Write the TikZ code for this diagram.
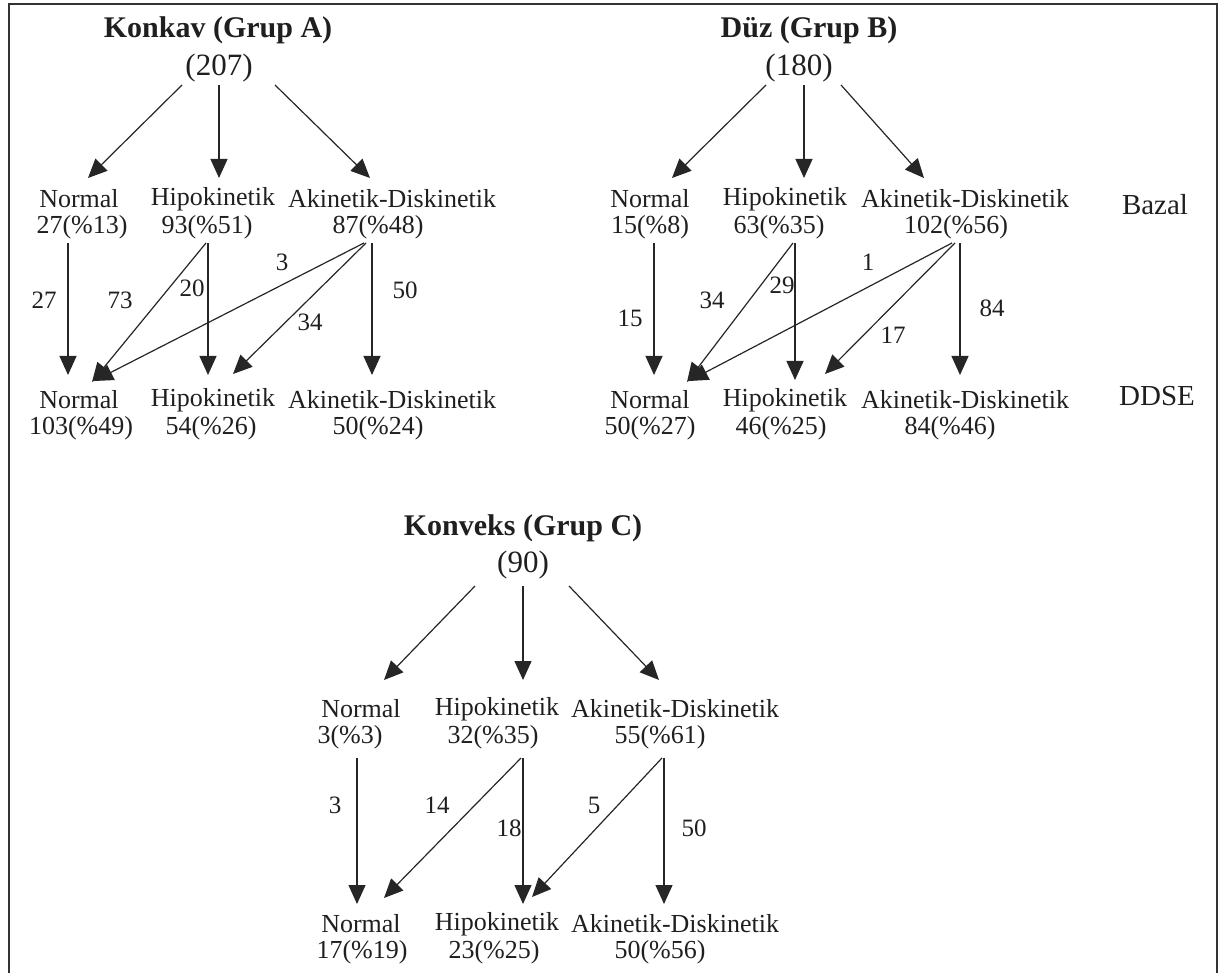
\documentclass[tikz,border=0pt]{standalone}
\usepackage{fontspec}
\setmainfont{Liberation Serif}
\usetikzlibrary{arrows.meta}
\begin{document}
\begin{tikzpicture}[x=1pt,y=-1pt,
  lbl/.style={inner sep=0pt, text=black!88, font=\fontsize{26}{26}\selectfont},
  ttl/.style={inner sep=0pt, text=black!88, font=\fontsize{30}{30}\selectfont\bfseries},
  cnt/.style={inner sep=0pt, text=black!88, font=\fontsize{31}{31}\selectfont},
  side/.style={inner sep=0pt, text=black!88, font=\fontsize{29}{29}\selectfont},
  num/.style={inner sep=0pt, text=black!88, font=\fontsize{25}{25}\selectfont},
  arr/.style={draw=black!85, line width=1.2pt, -{Triangle[length=19pt,width=17pt]}},
  frame/.style={draw=black!80, line width=2.5pt}]
\useasboundingbox (0,0) rectangle (1223,973);
% frame
\coordinate (F1) at (9,973); \coordinate (F2) at (9,4);
\coordinate (F3) at (1217,4); \coordinate (F4) at (1217,973);
\draw[frame] (F1) -- (F2) -- (F3) -- (F4);

% ================= Group A =================
\node[ttl] (At) at (218,30) {Konkav (Grup A)};
\node[cnt] (Ac) at (219,68) {(207)};
\node[lbl] (A1Na) at (79,199) {Normal};
\node[lbl] (A1Nb) at (82,227) {27(\%13)};
\node[lbl] (A1Ha) at (213,199) {Hipokinetik};
\node[lbl] (A1Hb) at (207,227) {93(\%51)};
\node[lbl] (A1Da) at (392,199) {Akinetik-Diskinetik};
\node[lbl] (A1Db) at (378,227) {87(\%48)};
\node[lbl] (A2Na) at (79,400) {Normal};
\node[lbl] (A2Nb) at (81,428) {103(\%49)};
\node[lbl] (A2Ha) at (213,400) {Hipokinetik};
\node[lbl] (A2Hb) at (211,428) {54(\%26)};
\node[lbl] (A2Da) at (392,400) {Akinetik-Diskinetik};
\node[lbl] (A2Db) at (378,428) {50(\%24)};
\coordinate (AcL) at (182,85); \coordinate (A1Ntip) at (88,178);
\coordinate (AcM) at (219,85); \coordinate (A1Htip) at (219,178);
\coordinate (AcR) at (275,85); \coordinate (A1Dtip) at (370,178);
\draw[arr] (AcL) -- (A1Ntip);
\draw[arr] (AcM) -- (A1Htip);
\draw[arr] (AcR) -- (A1Dtip);
\coordinate (A1Ns) at (68,243);  \coordinate (A2Nv) at (68,375);
\coordinate (A1Hs) at (208,243); \coordinate (A2Hv) at (208,375);
\coordinate (A1Hd) at (206,243); \coordinate (A2Nd1) at (92,382);
\coordinate (A1Ds) at (372,243); \coordinate (A2Dv) at (372,375);
\coordinate (A1Dd1) at (364,243); \coordinate (A2Nd2) at (94,381);
\coordinate (A1Dd2) at (366,243); \coordinate (A2Hd) at (233,374);
\draw[arr] (A1Ns) -- (A2Nv);
\draw[arr] (A1Hs) -- (A2Hv);
\draw[arr] (A1Hd) -- (A2Nd1);
\draw[arr] (A1Ds) -- (A2Dv);
\draw[arr] (A1Dd1) -- (A2Nd2);
\draw[arr] (A1Dd2) -- (A2Hd);
\node[num] (Al27) at (44,300) {27};
\node[num] (Al73) at (120,300) {73};
\node[num] (Al20) at (192,288) {20};
\node[num] (Al3) at (282,262) {3};
\node[num] (Al34) at (310,322) {34};
\node[num] (Al50) at (405,290) {50};

% ================= Group B =================
\node[ttl] (Bt) at (809,30) {Düz (Grup B)};
\node[cnt] (Bc) at (799,68) {(180)};
\node[lbl] (B1Na) at (650,199) {Normal};
\node[lbl] (B1Nb) at (650,227) {15(\%8)};
\node[lbl] (B1Ha) at (785,199) {Hipokinetik};
\node[lbl] (B1Hb) at (779,227) {63(\%35)};
\node[lbl] (B1Da) at (965,199) {Akinetik-Diskinetik};
\node[lbl] (B1Db) at (956,227) {102(\%56)};
\node[lbl] (B2Na) at (650,400) {Normal};
\node[lbl] (B2Nb) at (650,428) {50(\%27)};
\node[lbl] (B2Ha) at (785,400) {Hipokinetik};
\node[lbl] (B2Hb) at (781,428) {46(\%25)};
\node[lbl] (B2Da) at (965,400) {Akinetik-Diskinetik};
\node[lbl] (B2Db) at (950,428) {84(\%46)};
\node[side] (Bazal) at (1155,205) {Bazal};
\node[side] (DDSE) at (1157,396) {DDSE};
\coordinate (BcL) at (766,85); \coordinate (B1Ntip) at (672,178);
\coordinate (BcM) at (804,85); \coordinate (B1Htip) at (804,178);
\coordinate (BcR) at (841,85); \coordinate (B1Dtip) at (924,178);
\draw[arr] (BcL) -- (B1Ntip);
\draw[arr] (BcM) -- (B1Htip);
\draw[arr] (BcR) -- (B1Dtip);
\coordinate (B1Ns) at (654,243);  \coordinate (B2Nv) at (654,375);
\coordinate (B1Hs) at (795,243);  \coordinate (B2Hv) at (795,380);
\coordinate (B1Hd) at (793,243);  \coordinate (B2Nd1) at (687,382);
\coordinate (B1Ds) at (960,243);  \coordinate (B2Dv) at (960,375);
\coordinate (B1Dd1) at (952,243); \coordinate (B2Nd2) at (689,381);
\coordinate (B1Dd2) at (955,243); \coordinate (B2Hd) at (825,374);
\draw[arr] (B1Ns) -- (B2Nv);
\draw[arr] (B1Hs) -- (B2Hv);
\draw[arr] (B1Hd) -- (B2Nd1);
\draw[arr] (B1Ds) -- (B2Dv);
\draw[arr] (B1Dd1) -- (B2Nd2);
\draw[arr] (B1Dd2) -- (B2Hd);
\node[num] (Bl15) at (630,318) {15};
\node[num] (Bl34) at (712,300) {34};
\node[num] (Bl29) at (782,285) {29};
\node[num] (Bl1) at (868,262) {1};
\node[num] (Bl17) at (893,335) {17};
\node[num] (Bl84) at (992,308) {84};

% ================= Group C =================
\node[ttl] (Ct) at (523,528) {Konveks (Grup C)};
\node[cnt] (Cc) at (523,565) {(90)};
\node[lbl] (C1Na) at (361,709) {Normal};
\node[lbl] (C1Nb) at (350,737) {3(\%3)};
\node[lbl] (C1Ha) at (497,709) {Hipokinetik};
\node[lbl] (C1Hb) at (493,737) {32(\%35)};
\node[lbl] (C1Da) at (675,709) {Akinetik-Diskinetik};
\node[lbl] (C1Db) at (660,737) {55(\%61)};
\node[lbl] (C2Na) at (361,924) {Normal};
\node[lbl] (C2Nb) at (362,952) {17(\%19)};
\node[lbl] (C2Ha) at (497,924) {Hipokinetik};
\node[lbl] (C2Hb) at (494,952) {23(\%25)};
\node[lbl] (C2Da) at (675,924) {Akinetik-Diskinetik};
\node[lbl] (C2Db) at (660,952) {50(\%56)};
\coordinate (CcL) at (475,586); \coordinate (C1Ntip) at (384,680);
\coordinate (CcM) at (523,586); \coordinate (C1Htip) at (523,680);
\coordinate (CcR) at (569,586); \coordinate (C1Dtip) at (659,680);
\draw[arr] (CcL) -- (C1Ntip);
\draw[arr] (CcM) -- (C1Htip);
\draw[arr] (CcR) -- (C1Dtip);
\coordinate (C1Ns) at (357,758);  \coordinate (C2Nv) at (357,904);
\coordinate (C1Hs) at (523,758);  \coordinate (C2Hv) at (523,904);
\coordinate (C1Hd) at (521,758);  \coordinate (C2Nd) at (384,898);
\coordinate (C1Ds) at (664,758);  \coordinate (C2Dv) at (664,904);
\coordinate (C1Dd) at (662,758);  \coordinate (C2Hd) at (532,897);
\draw[arr] (C1Ns) -- (C2Nv);
\draw[arr] (C1Hs) -- (C2Hv);
\draw[arr] (C1Hd) -- (C2Nd);
\draw[arr] (C1Ds) -- (C2Dv);
\draw[arr] (C1Dd) -- (C2Hd);
\node[num] (Cl3) at (335,805) {3};
\node[num] (Cl14) at (437,805) {14};
\node[num] (Cl18) at (509,828) {18};
\node[num] (Cl5) at (594,805) {5};
\node[num] (Cl50) at (694,828) {50};
\end{tikzpicture}
\end{document}
